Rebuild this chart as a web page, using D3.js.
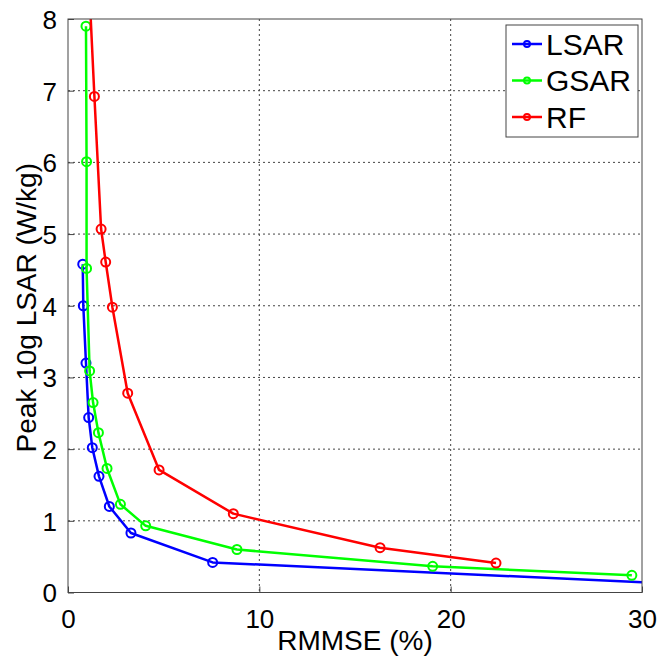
<!DOCTYPE html>
<html>
<head>
<meta charset="utf-8">
<script src="https://cdn.jsdelivr.net/npm/d3@7"></script>
<style>
  body { margin: 0; background: #fff; }
  text { font-family: "Liberation Sans", Arial, sans-serif; fill: #000; }
</style>
</head>
<body>
<div id="chart"></div>
<script>
// values
var seriesNames = ["LSAR", "GSAR", "RF"];
var seriesColors = ["#0000ff", "#00ff00", "#ff0000"];

var lsarX = [0.77, 0.80, 0.94, 1.08, 1.27, 1.62, 2.16, 3.29, 7.56, 31.0];
var lsarY = [4.58, 4.00, 3.20, 2.44, 2.02, 1.62, 1.20, 0.83, 0.42, 0.13];

var gsarX = [0.94, 0.97, 0.97, 1.13, 1.31, 1.59, 2.04, 2.74, 4.06, 8.83, 19.06, 29.47];
var gsarY = [7.90, 6.01, 4.52, 3.09, 2.65, 2.23, 1.73, 1.23, 0.93, 0.60, 0.365, 0.24];

var rfX = [1.10, 1.38, 1.73, 1.97, 2.32, 3.12, 4.76, 8.64, 16.31, 22.37];
var rfY = [8.50, 6.92, 5.07, 4.61, 3.98, 2.78, 1.71, 1.10, 0.625, 0.41];

var xTicks = [0, 10, 20, 30];
var yTicks = [0, 1, 2, 3, 4, 5, 6, 7, 8];

var W = 660, H = 658;
var margin = {left: 68, right: 18, top: 19, bottom: 65.5};
var pw = W - margin.left - margin.right;
var ph = H - margin.top - margin.bottom;

var svg = d3.select("#chart").append("svg")
  .attr("width", W).attr("height", H);

var x = d3.scaleLinear().domain([0, 30]).range([0, pw]);
var y = d3.scaleLinear().domain([0, 8]).range([ph, 0]);

var g = svg.append("g").attr("transform", "translate(" + margin.left + "," + margin.top + ")");

g.append("clipPath").attr("id", "clip")
  .append("rect").attr("width", pw).attr("height", ph);

// grid (dotted)
g.selectAll(".gx").data(xTicks.slice(1, -1)).enter().append("line")
  .attr("x1", function(d){ return x(d); }).attr("x2", function(d){ return x(d); })
  .attr("y1", 0).attr("y2", ph)
  .attr("stroke", "#444").attr("stroke-width", 1).attr("stroke-dasharray", "2,3");
g.selectAll(".gy").data(yTicks.slice(1, -1)).enter().append("line")
  .attr("y1", function(d){ return y(d); }).attr("y2", function(d){ return y(d); })
  .attr("x1", 0).attr("x2", pw)
  .attr("stroke", "#444").attr("stroke-width", 1).attr("stroke-dasharray", "2,3");

// axes: ticks inward, labels outside
var xAxis = g.append("g").attr("transform", "translate(0," + ph + ")")
  .call(d3.axisBottom(x).tickValues(xTicks).tickSize(-6).tickPadding(11).tickFormat(d3.format("d")));
var yAxis = g.append("g")
  .call(d3.axisLeft(y).tickValues(yTicks).tickSize(-6).tickPadding(11).tickFormat(d3.format("d")));
[xAxis, yAxis].forEach(function(a){
  a.select(".domain").remove();
  a.selectAll(".tick line").attr("stroke", "#444");
  a.selectAll(".tick text").attr("font-size", 26)
    .attr("font-family", "Liberation Sans, Arial, sans-serif").attr("fill", "#000");
});
xAxis.selectAll(".tick text").attr("dy", "0.95em");
yAxis.selectAll(".tick text").attr("dy", "0.36em");

// data lines
var all = [
  {name: seriesNames[0], color: seriesColors[0], xs: lsarX, ys: lsarY},
  {name: seriesNames[1], color: seriesColors[1], xs: gsarX, ys: gsarY},
  {name: seriesNames[2], color: seriesColors[2], xs: rfX, ys: rfY}
];
var line = d3.line()
  .x(function(d){ return x(d[0]); })
  .y(function(d){ return y(d[1]); });

var plot = g.append("g").attr("clip-path", "url(#clip)");
all.forEach(function(s){
  var pts = s.xs.map(function(v, i){ return [v, s.ys[i]]; });
  plot.append("path").datum(pts)
    .attr("d", line).attr("fill", "none")
    .attr("stroke", s.color).attr("stroke-width", 2.5).attr("stroke-linejoin", "round");
  plot.selectAll(null).data(pts).enter().append("circle")
    .attr("cx", function(d){ return x(d[0]); })
    .attr("cy", function(d){ return y(d[1]); })
    .attr("r", 4.5).attr("fill", "none")
    .attr("stroke", s.color).attr("stroke-width", 2);
});

// box
g.append("rect").attr("width", pw).attr("height", ph)
  .attr("fill", "none").attr("stroke", "#444").attr("stroke-width", 1);

// axis labels
svg.append("text")
  .attr("x", margin.left + pw / 2).attr("y", 650)
  .attr("text-anchor", "middle").attr("font-size", 28)
  .text("RMMSE (%)");
svg.append("text")
  .attr("transform", "translate(36," + (margin.top + ph / 2 + 2) + ") rotate(-90)")
  .attr("text-anchor", "middle").attr("font-size", 28)
  .text("Peak 10g LSAR (W/kg)");

// legend
var lg = svg.append("g").attr("transform", "translate(506,25)");
lg.append("rect").attr("width", 132).attr("height", 112)
  .attr("fill", "#fff").attr("stroke", "#444").attr("stroke-width", 1);
all.forEach(function(s, i){
  var cy = 19 + i * 36.5;
  lg.append("line").attr("x1", 6).attr("x2", 36).attr("y1", cy).attr("y2", cy)
    .attr("stroke", s.color).attr("stroke-width", 2.5);
  lg.append("circle").attr("cx", 21).attr("cy", cy).attr("r", 3).attr("fill", "none")
    .attr("stroke", s.color).attr("stroke-width", 2);
  lg.append("text").attr("x", 40).attr("y", cy).attr("dy", "0.36em")
    .attr("font-size", 30).text(s.name);
});
</script>
</body>
</html>
